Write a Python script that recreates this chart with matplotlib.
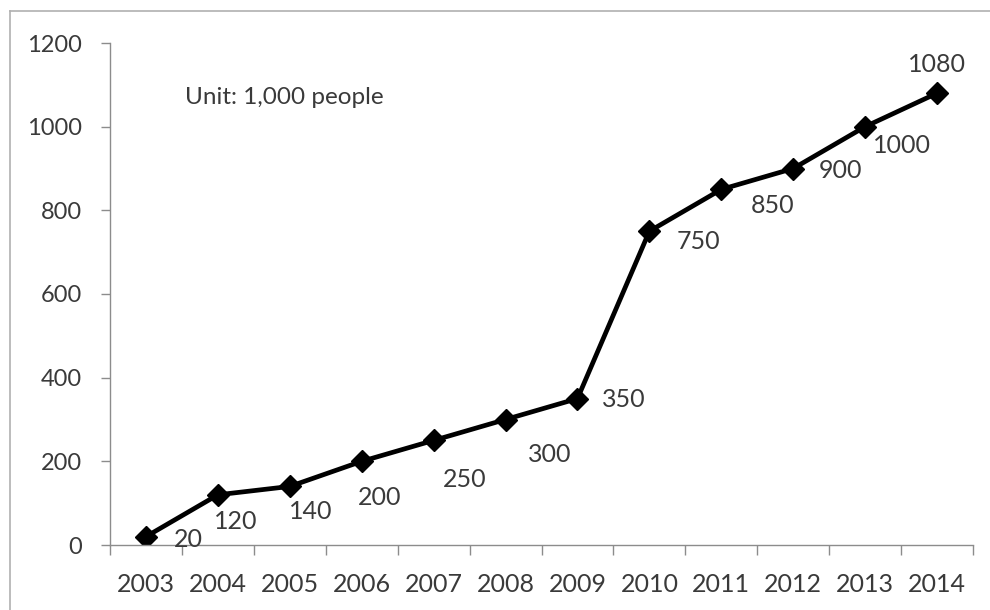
import matplotlib
matplotlib.use("Agg")
import matplotlib.pyplot as plt
from matplotlib.lines import Line2D

years = ["2003", "2004", "2005", "2006", "2007", "2008", "2009",
         "2010", "2011", "2012", "2013", "2014"]
values = [20, 120, 140, 200, 250, 300, 350, 750, 850, 900, 1000, 1080]
y_ticks = [0, 200, 400, 600, 800, 1000, 1200]
unit_text = "Unit: 1,000 people"

# label offsets in pixels (dx right, dy down) relative to each point
label_dx = [42, 18, 21, 18, 31, 44, 46, 49, 51, 47, 37, 0]
label_dy = [3, 27, 25, 36, 39, 35, 1, 10, 16, 2, 19, -29]

plt.rcParams['font.family'] = ['Lato', 'DejaVu Sans']
text_color = '#3a3a3a'
axis_color = '#8c8c8c'
fs = 18

fig = plt.figure(figsize=(9.9, 6.1), dpi=100)
W, H = 990, 610
ax = fig.add_axes([110 / W, 1 - 545 / H, (973 - 110) / W, (545 - 43) / H])

x = list(range(len(years)))
ax.plot(x, values, color='black', lw=3.4, marker='D', markersize=11,
        markerfacecolor='black', markeredgecolor='black', solid_joinstyle='round')

for xi, v, dx, dy in zip(x, values, label_dx, label_dy):
    ax.annotate(str(v), (xi, v), xytext=(dx, -dy), textcoords='offset pixels',
                ha='center', va='center', fontsize=fs, color=text_color)

ax.set_xlim(-0.5, len(years) - 0.5)
ax.set_ylim(0, 1200)
ax.set_yticks(y_ticks)
ax.set_yticklabels([str(t) for t in y_ticks])
ax.tick_params(axis='y', direction='out', length=6.5, width=1, color=axis_color,
               labelsize=17, labelcolor=text_color, pad=14)

ax.set_xticks(x)
ax.set_xticklabels(years)
ax.tick_params(axis='x', length=0, labelsize=fs, labelcolor=text_color, pad=20)
ax.set_xticks([i - 0.5 for i in range(len(years) + 1)], minor=True)
ax.tick_params(axis='x', which='minor', direction='out', length=7, width=1,
               color=axis_color)

for s in ['top', 'right']:
    ax.spines[s].set_visible(False)
for s in ['left', 'bottom']:
    ax.spines[s].set_color(axis_color)
    ax.spines[s].set_linewidth(1)

ax.text(185 / W, 1 - 97 / H, unit_text, transform=fig.transFigure,
        ha='left', va='center', fontsize=17.5, color=text_color)

# outer border of the chart area
border_color = '#b0b0b0'
fig.add_artist(Line2D([10 / W, 10 / W], [0, 1 - 11 / H], transform=fig.transFigure,
                      color=border_color, lw=1.2))
fig.add_artist(Line2D([10 / W, 1], [1 - 11 / H, 1 - 11 / H], transform=fig.transFigure,
                      color=border_color, lw=1.2))

fig.savefig("out.png", dpi=100)
